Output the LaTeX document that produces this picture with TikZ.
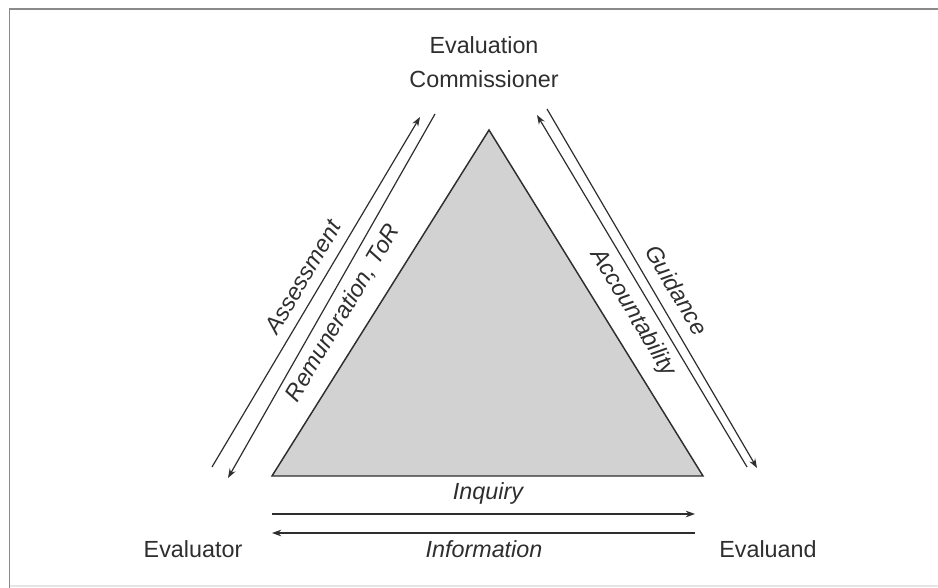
\documentclass[tikz,border=0pt]{standalone}
\usepackage{fontspec}
\setmainfont{Liberation Sans}
\usetikzlibrary{arrows.meta}
\definecolor{tri}{HTML}{D2D2D2}
\definecolor{frame}{HTML}{8A8A8A}
\definecolor{ink}{HTML}{2E2E2E}
\tikzset{
  lbl/.style={font=\fontsize{17.5}{19}\selectfont, text=ink, inner sep=0pt},
  ilbl/.style={lbl, font=\fontsize{17.5}{19}\selectfont\itshape},
  flow/.style={draw=ink, line width=0.9pt, -{Stealth[length=7pt,width=5pt]}},
}
\begin{document}
\begin{tikzpicture}[x=0.75pt,y=-0.75pt]
\useasboundingbox (0,0) rectangle (938,588);
% frame
\draw[frame, line width=1.2pt] (9.5,588) -- (9.5,9) -- (938,9);
\draw[black!10, line width=0.8pt] (9.5,586) -- (938,586);
% triangle
\coordinate (A) at (489,130);
\coordinate (B) at (272,476);
\coordinate (C) at (703,476);
\filldraw[fill=tri, draw=ink, line width=1.1pt] (A) -- (B) -- (C) -- cycle;
% corner labels
\node[lbl, align=center] (comm) at (484,62) {Evaluation\\[6pt]Commissioner};
\node[lbl] (evtor) at (193,549) {Evaluator};
\node[lbl] (evand) at (768,549) {Evaluand};
% left pair
\coordinate (l1s) at (212,467);
\coordinate (l1e) at (420,117);
\coordinate (l2s) at (435,114);
\coordinate (l2e) at (228,478);
\path[flow] (l1s) -- (l1e);
\path[flow] (l2s) -- (l2e);
\node[ilbl, rotate=59.3] (assess) at (303,277) {Assessment};
\node[ilbl, rotate=59.3] (remun) at (343,313) {Remuneration, ToR};
% right pair
\coordinate (r1s) at (747,467);
\coordinate (r1e) at (537,115);
\coordinate (r2s) at (547,109);
\coordinate (r2e) at (757,468);
\path[flow] (r1s) -- (r1e);
\path[flow] (r2s) -- (r2e);
\node[ilbl, rotate=-59.2] (guid) at (677,290) {Guidance};
\node[ilbl, rotate=-59.2] (acc) at (633,313) {Accountability};
% bottom pair
\coordinate (b1s) at (272,514);
\coordinate (b1e) at (695,514);
\coordinate (b2s) at (695,533);
\coordinate (b2e) at (272,533);
\path[flow] (b1s) -- (b1e);
\path[flow] (b2s) -- (b2e);
\node[ilbl] (inq) at (488,493) {Inquiry};
\node[ilbl] (info) at (484,549) {Information};
\end{tikzpicture}
\end{document}
